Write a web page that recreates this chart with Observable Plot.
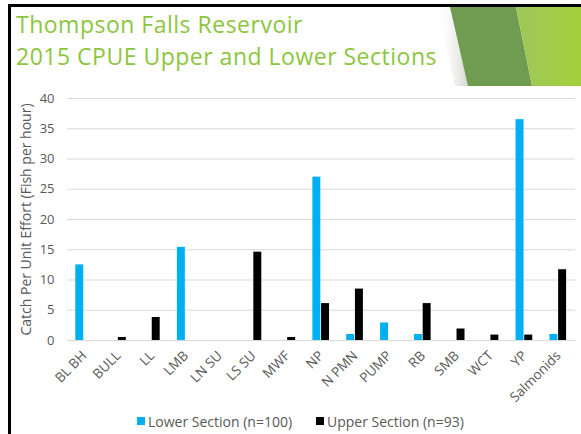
<!DOCTYPE html>
<html>
<head>
<meta charset="utf-8">
<script src="https://cdn.jsdelivr.net/npm/d3@7"></script>
<script src="https://cdn.jsdelivr.net/npm/@observablehq/plot@0.6"></script>
<style>
  html, body { margin: 0; padding: 0; background: #fff; }
  #page { position: relative; width: 581px; height: 434px; overflow: hidden; background: #fff; font-family: "Open Sans", Lato, sans-serif; }
  #frameTop { position: absolute; left: 8px; top: 4px; width: 573px; height: 3px; background: #000; }
  #frameLeft { position: absolute; left: 8px; top: 4px; width: 3px; height: 430px; background: #000; }
  #deco { position: absolute; left: 0; top: 0; }
  #title { position: absolute; left: 16px; top: 9px; color: #8cc63e; font-size: 23px; line-height: 31.5px; letter-spacing: 0.5px; white-space: nowrap; }
  #chart { position: absolute; left: 0; top: 88px; }
  #chart [aria-label="y-axis label"], #chart [aria-label="y-axis label"] text { font-size: 14px !important; }
  #legend { position: absolute; left: 0; top: 411px; width: 581px; height: 20px; font-size: 14px; color: #595959; }
  .item { position: absolute; top: 0; display: flex; align-items: center; height: 20px; white-space: nowrap; }
  .sw { width: 8px; height: 8px; margin-right: 3px; }
</style>
</head>
<body>
<div id="page">
  <svg id="deco" width="581" height="434">
    <defs>
      <linearGradient id="fade" x1="0" x2="1" y1="0" y2="0">
        <stop offset="0" stop-color="#ffffff" stop-opacity="0"/>
        <stop offset="1" stop-color="#c9cfc4"/>
      </linearGradient>
      <linearGradient id="light" x1="0" x2="1" y1="0" y2="0">
        <stop offset="0" stop-color="#9ec75a"/>
        <stop offset="1" stop-color="#a3cf3c"/>
      </linearGradient>
    </defs>
    <polygon points="436,7 452,7 471,86 455,86" fill="url(#fade)"/>
    <polygon points="450,7 516,7 532,86 468,86" fill="#709c52"/>
    <polygon points="516,7 581,7 581,86 532,86" fill="url(#light)"/>
  </svg>
  <div id="frameTop"></div>
  <div id="frameLeft"></div>
  <div id="title"><div id="t1">Thompson Falls Reservoir</div><div id="t2">2015 CPUE Upper and Lower Sections</div></div>
  <div id="chart"></div>
  <div id="legend"></div>
</div>
<script>
const categories = ["BL BH","BULL","LL","LMB","LN SU","LS SU","MWF","NP","N PMN","PUMP","RB","SMB","WCT","YP","Salmonids"];
const lowerValues = [12.5, 0, 0, 15.4, 0, 0, 0, 27.0, 1.0, 2.9, 1.0, 0, 0, 36.5, 1.0];
const upperValues = [0, 0.5, 3.8, 0, 0, 14.6, 0.5, 6.1, 8.5, 0, 6.1, 1.9, 0.9, 0.9, 11.7];
const seriesNames = ["Lower Section (n=100)", "Upper Section (n=93)"];
const seriesColors = ["#00b0f0", "#000000"];
const yTicks = [0, 5, 10, 15, 20, 25, 30, 35, 40];
const yLabel = "Catch Per Unit Effort (Fish per hour)";

const lowerData = categories.map((c, i) => ({category: c, value: lowerValues[i]}));
const upperData = categories.map((c, i) => ({category: c, value: upperValues[i]}));

const chart = Plot.plot({
  width: 581,
  height: 322,
  marginLeft: 67,
  marginRight: 6,
  marginTop: 10,
  marginBottom: 70,
  style: {fontFamily: "'Open Sans', Lato, sans-serif", color: "#595959", background: "transparent", overflow: "visible"},
  x: {domain: categories, padding: 0, round: false},
  y: {domain: [0, 40]},
  marks: [
    Plot.ruleY(yTicks, {stroke: "#d9d9d9", strokeWidth: 1}),
    Plot.barY(lowerData, {x: "category", y: "value", fill: seriesColors[0], insetLeft: 8.3, insetRight: 17.6}),
    Plot.barY(upperData, {x: "category", y: "value", fill: seriesColors[1], insetLeft: 17.0, insetRight: 8.9}),
    Plot.axisY({ticks: yTicks, tickSize: 0, tickPadding: 13, fontSize: 13, fill: "#595959",
      label: yLabel, labelAnchor: "center", labelArrow: false, labelOffset: 46}),
    Plot.axisX({tickSize: 0, tickPadding: 13, tickRotate: -45, fontSize: 13.5, fill: "#595959", label: null})
  ]
});
document.getElementById("chart").appendChild(chart);

const legend = document.getElementById("legend");
const lefts = [137, 316];
seriesNames.forEach((name, i) => {
  const item = document.createElement("div");
  item.className = "item";
  item.style.left = lefts[i] + "px";
  const sw = document.createElement("div");
  sw.className = "sw";
  sw.style.background = seriesColors[i];
  const t = document.createElement("span");
  t.textContent = name;
  item.appendChild(sw);
  item.appendChild(t);
  legend.appendChild(item);
});
</script>
</body>
</html>
